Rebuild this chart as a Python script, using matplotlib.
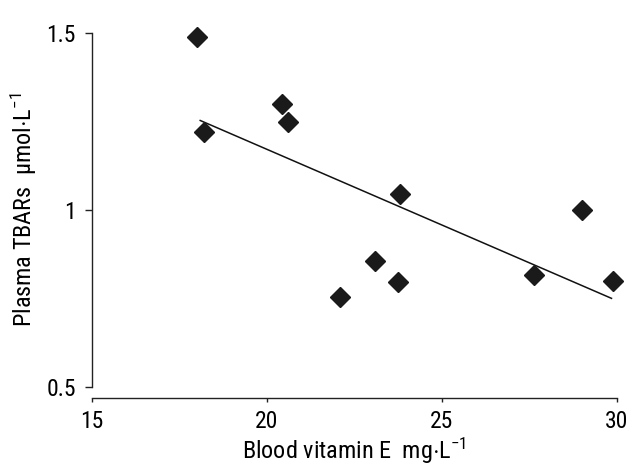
import numpy as np
import matplotlib

matplotlib.use("Agg")
import matplotlib.pyplot as plt

# values
vit_e = [18.0, 18.2, 20.45, 20.6, 22.1, 23.1, 23.75, 23.8, 27.65, 29.0, 29.9]
tbars = [1.49, 1.22, 1.30, 1.25, 0.755, 0.855, 0.795, 1.045, 0.815, 1.0, 0.80]
x_ticks = [15, 20, 25, 30]
y_ticks = [0.5, 1.0, 1.5]
y_tick_labels = ["0.5", "1", "1.5"]

plt.rcParams["font.family"] = ["Roboto Condensed", "Liberation Sans", "DejaVu Sans"]
plt.rcParams["mathtext.fontset"] = "custom"
plt.rcParams["mathtext.rm"] = "Roboto Condensed"
plt.rcParams["mathtext.it"] = "Roboto Condensed"

fig = plt.figure(figsize=(6.29, 4.66), dpi=100)
ax = fig.add_axes([0.1458, 0.1702, 0.8347, 0.7584])

x = np.array(vit_e)
y = np.array(tbars)
slope, icpt = np.polyfit(x, y, 1)
xf = np.array([x.min() + 0.1, x.max() - 0.05])
ax.plot(xf, icpt + slope * xf, color="#111111", lw=1.1, zorder=2)
ax.plot(x, y, ls="none", marker="D", ms=10.5, color="#1a1a1a", mec="#1a1a1a",
        clip_on=False, zorder=3)

ax.set_xlim(15, 30)
ax.set_ylim(0.5, 1.5)
ax.set_xticks(x_ticks)
ax.set_yticks(y_ticks)
ax.set_yticklabels(y_tick_labels)

for s in ("top", "right"):
    ax.spines[s].set_visible(False)
ax.spines["bottom"].set_position(("outward", 8.1))
ax.spines["bottom"].set_bounds(15, 30)
ax.spines["left"].set_bounds(0.5, 1.5)
for s in ("bottom", "left"):
    ax.spines[s].set_color("#222222")
    ax.spines[s].set_linewidth(1.0)

ax.tick_params(axis="x", length=3, width=1.0, color="#222222", pad=6,
               labelsize=17, labelcolor="black")
ax.tick_params(axis="y", length=5, width=1.0, color="#222222", pad=6.5,
               labelsize=17, labelcolor="black")

ax.set_xlabel(r"Blood vitamin E  mg$\cdot$L$^{-1}$", fontsize=17.5, color="black",
              labelpad=2)
ax.set_ylabel("Plasma TBARs  \u00b5mol$\\cdot$L$^{-1}$", fontsize=17.5, color="black",
              labelpad=5)

fig.savefig("out.png", dpi=100)
